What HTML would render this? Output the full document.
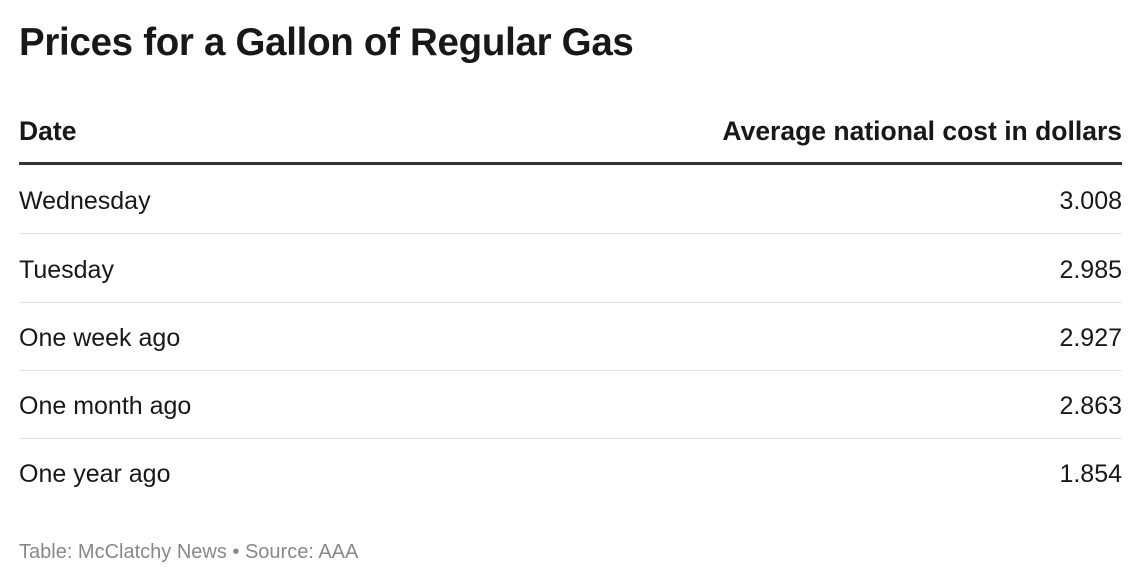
<!DOCTYPE html>
<html><head><meta charset="utf-8"><style>
body{margin:0;width:1140px;height:584px;background:#fff;font-family:"Liberation Sans",sans-serif;color:#181818;position:relative;overflow:hidden}
.t{position:absolute;left:19px;top:21px;font-size:38.5px;font-weight:bold;letter-spacing:-0.3px}
.h{position:absolute;top:116px;font-size:26.5px;font-weight:bold}
.hl{position:absolute;left:19px;top:162px;width:1103px;height:3px;background:#333}
.r{position:absolute;left:19px;width:1103px;height:68px;border-bottom:1px solid #e4e4e4;font-size:25px}
.r span{position:absolute;top:22px}
.r .v{right:0}
.f{position:absolute;left:19px;top:541px;font-size:20px;color:#888}
</style></head><body>
<div class="t">Prices for a Gallon of Regular Gas</div>
<div class="h" style="left:19px">Date</div>
<div class="h" style="right:18px">Average national cost in dollars</div>
<div class="hl"></div>
<div class="r" style="top:165px"><span>Wednesday</span><span class="v">3.008</span></div>
<div class="r" style="top:234px"><span>Tuesday</span><span class="v">2.985</span></div>
<div class="r" style="top:302px"><span>One week ago</span><span class="v">2.927</span></div>
<div class="r" style="top:370px"><span>One month ago</span><span class="v">2.863</span></div>
<div class="r" style="top:438px;border-bottom:none"><span>One year ago</span><span class="v">1.854</span></div>
<div class="f">Table: McClatchy News • Source: AAA</div>
</body></html>
